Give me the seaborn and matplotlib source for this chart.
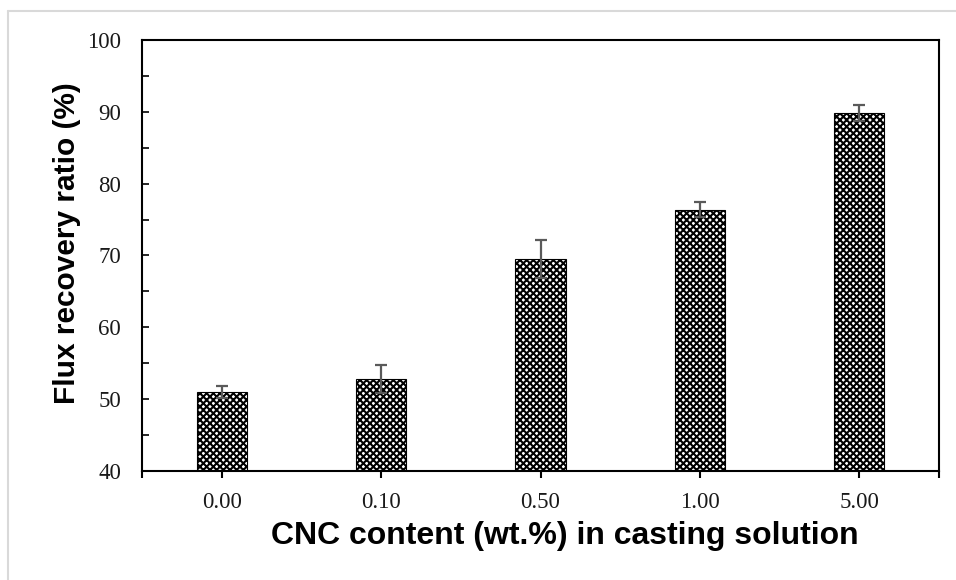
import matplotlib
matplotlib.use("Agg")
import matplotlib.pyplot as plt
import seaborn as sns
import pandas as pd
from matplotlib.lines import Line2D
from matplotlib.ticker import MultipleLocator, FixedLocator

categories = ["0.00", "0.10", "0.50", "1.00", "5.00"]
frr = [51.0, 52.8, 69.5, 76.4, 89.8]
frr_err = [0.9, 2.0, 2.7, 1.1, 1.1]
y_ticks = [40, 50, 60, 70, 80, 90, 100]

sns.set_theme(style="white")
plt.rcParams["hatch.linewidth"] = 1.5
plt.rcParams["hatch.color"] = "black"
plt.rcParams["font.family"] = ["Liberation Sans", "DejaVu Sans"]

W, H = 956, 580
fig = plt.figure(figsize=(W / 100, H / 100), dpi=100)
fig.patch.set_facecolor("white")
ax = fig.add_axes([142 / W, 1 - 471 / H, (939 - 142) / W, (471 - 40) / H])

df = pd.DataFrame({"cnc": categories, "frr": frr})
sns.barplot(data=df, x="cnc", y="frr", ax=ax, width=0.315, color="white",
            edgecolor="black", linewidth=0.8, hatch="xxxxx", errorbar=None,
            saturation=1)
ax.errorbar(x=list(range(len(categories))), y=frr, yerr=frr_err, fmt="none",
            ecolor="#5a5a5a", elinewidth=1.6, capsize=4.3, capthick=1.6, zorder=4)

ax.set_xlim(-0.5, len(categories) - 0.5)
ax.set_ylim(40, 100)
ax.yaxis.set_major_locator(FixedLocator(y_ticks))
ax.yaxis.set_minor_locator(MultipleLocator(5))
ax.xaxis.set_minor_locator(FixedLocator([-0.5, len(categories) - 0.5]))

for s in ax.spines.values():
    s.set_color("black")
    s.set_linewidth(1.5)
    s.set_visible(True)

ax.tick_params(axis="y", which="both", direction="in", length=5, width=1.2,
               left=True, color="black", pad=15)
ax.tick_params(axis="x", which="major", direction="out", length=5, width=1.5,
               bottom=True, color="black", pad=10)
ax.tick_params(axis="x", which="minor", direction="out", length=5, width=1.5,
               bottom=True, color="black")

for lab in ax.get_yticklabels() + ax.get_xticklabels():
    lab.set_fontfamily("Liberation Serif")
    lab.set_fontsize(16.5)
    lab.set_color("#1a1a1a")

ax.set_xlabel("CNC content (wt.%) in casting solution", fontsize=23,
              fontweight="bold", fontfamily="Liberation Sans", color="black")
ax.set_ylabel("Flux recovery ratio (%)", fontsize=21.5, fontweight="bold",
              fontfamily="Liberation Sans", color="black")
ax.xaxis.set_label_coords((565 - 142) / 797, (471 - 521) / 431)
ax.yaxis.set_label_coords((81 - 142) / 797, (471 - 243) / 431)
ax.grid(False)

fig.add_artist(Line2D([8 / W, 1], [1 - 11 / H, 1 - 11 / H], transform=fig.transFigure,
                      color="#d9d9d9", lw=1.5))
fig.add_artist(Line2D([8 / W, 8 / W], [0, 1 - 11 / H], transform=fig.transFigure,
                      color="#d9d9d9", lw=1.5))

fig.savefig("out.png", dpi=100)
